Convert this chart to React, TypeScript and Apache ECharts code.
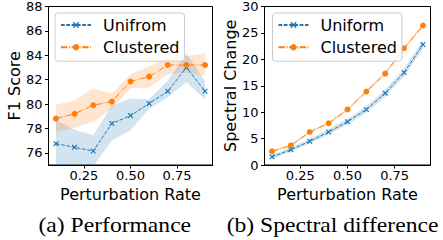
import React, { useEffect, useRef } from "react";
import * as echarts from "echarts";

const rates = [0.1, 0.2, 0.3, 0.4, 0.5, 0.6, 0.7, 0.8, 0.9];
const xTicks = [0.25, 0.5, 0.75];
const f1Ticks = [76, 78, 80, 82, 84, 86, 88];

const f1Uniform = [76.75, 76.45, 76.15, 78.4, 79.05, 80.05, 81.05, 83.0, 81.05];
const f1UniformLow = [74.5, 74.4, 74.9, 77.0, 77.85, 79.6, 80.55, 81.8, 80.4];
const f1UniformHigh = [78.7, 77.9, 77.45, 79.85, 80.45, 80.4, 81.9, 84.15, 81.9];
const f1Clustered = [78.8, 79.2, 79.9, 80.2, 81.85, 82.25, 83.2, 83.2, 83.2];
const f1ClusteredLow = [77.7, 78.05, 78.55, 79.6, 81.3, 81.35, 82.45, 82.6, 82.3];
const f1ClusteredHigh = [79.95, 80.3, 81.3, 80.85, 82.45, 83.1, 83.8, 83.95, 84.15];

const specUniform = [1.55, 2.9, 4.5, 6.25, 8.2, 10.5, 13.6, 17.5, 22.8];
const specUniformLow = [1.15, 2.5, 4.05, 5.75, 7.65, 9.9, 12.9, 16.75, 22.0];
const specUniformHigh = [1.95, 3.3, 4.95, 6.75, 8.75, 11.1, 14.3, 18.25, 23.6];
const specClustered = [2.6, 3.7, 6.25, 7.9, 10.5, 13.9, 17.3, 22.1, 26.4];
const specClusteredLow = [2.4, 3.5, 6.0, 7.65, 10.2, 13.6, 17.0, 21.75, 26.05];
const specClusteredHigh = [2.8, 3.9, 6.5, 8.15, 10.8, 14.2, 17.6, 22.45, 26.75];

const BLUE = "#1f77b4";
const ORANGE = "#ff7f0e";
const FONT = "DejaVu Sans";
const XMARK = "path://M0,1.5L1.5,0L10,8.5L8.5,10Z M8.5,0L10,1.5L1.5,10L0,8.5Z";

const pairs = (ys: number[]) => rates.map((x, i) => [x, ys[i]]);

function band(idx: number, key: string, lo: number[], hi: number[], color: string) {
  return {
    type: "custom", name: key, xAxisIndex: idx, yAxisIndex: idx, silent: true, clip: true, z: 1,
    data: rates.map((x, i) => [x, lo[i], hi[i]]),
    encode: { x: 0, y: [1, 2] },
    renderItem: (params: any, api: any) => {
      if (params.dataIndex !== 0) return null;
      const upper = rates.map((x, i) => api.coord([x, hi[i]]));
      const lower = rates.map((x, i) => api.coord([x, lo[i]])).reverse();
      const cs = params.coordSys;
      return {
        type: "group",
        children: [
          {
            type: "polygon",
            shape: { points: upper.concat(lower) },
            style: { fill: color },
          },
        ],
        clipPath: { type: "rect", shape: { x: cs.x, y: cs.y, width: cs.width, height: cs.height } },
      };
    },
  };
}

function mainLine(idx: number, name: string, ys: number[], color: string, dash: number[], symbol: string, size: number) {
  return {
    type: "line", name, xAxisIndex: idx, yAxisIndex: idx, data: pairs(ys),
    symbol, symbolSize: size, showSymbol: true,
    itemStyle: { color },
    lineStyle: { color, width: 1, type: dash },
    z: 3,
  };
}

function xAxis(idx: number) {
  return {
    type: "value", gridIndex: idx, min: 0.06, max: 0.94,
    name: "Perturbation Rate", nameLocation: "middle", nameGap: 16,
    nameTextStyle: { fontFamily: FONT, fontSize: 16, color: "#000" },
    splitLine: { show: false },
    axisLine: { show: true, lineStyle: { color: "#000", width: 1 } },
    axisTick: { show: true, length: 3.5, customValues: xTicks, lineStyle: { color: "#000" } },
    axisLabel: {
      customValues: xTicks, margin: 4, fontFamily: FONT, fontSize: 13, color: "#000",
      formatter: (v: number) => v.toFixed(2),
    },
  };
}

function legend(left: number, names: string[]) {
  return {
    orient: "vertical", left, top: 13, data: names,
    itemWidth: 30, itemHeight: 8, itemGap: 6.2,
    padding: [4, 5, 6, 5],
    borderColor: "#cccccc", borderWidth: 1, borderRadius: 3,
    backgroundColor: "rgba(255,255,255,0.8)",
    textStyle: { fontFamily: FONT, fontSize: 16, color: "#000", lineHeight: 15.5, padding: [0, 0, 0, 7] },
    selectedMode: false,
  };
}

export default function App() {
  const ref = useRef<HTMLDivElement>(null);
  useEffect(() => {
    if (!ref.current) return;
    const chart = echarts.init(ref.current, null, { renderer: "svg" });
    const dashed = [3.7, 1.6];
    const dashDot = [6.4, 1.6, 1, 1.6];
    chart.setOption({
      animation: false,
      backgroundColor: "#fff",
      grid: [
        { left: 48.5, top: 5, width: 164, height: 160, show: true, borderColor: "#000", borderWidth: 1 },
        { left: 264.5, top: 5, width: 166, height: 160, show: true, borderColor: "#000", borderWidth: 1 },
      ],
      xAxis: [xAxis(0), xAxis(1)],
      yAxis: [
        {
          type: "value", gridIndex: 0, min: 75, max: 88,
          name: "F1 Score", nameLocation: "middle", nameGap: 26,
          nameTextStyle: { fontFamily: FONT, fontSize: 16, color: "#000" },
          splitLine: { show: false },
          axisLine: { show: true, lineStyle: { color: "#000", width: 1 } },
          axisTick: { show: true, length: 3.5, customValues: f1Ticks, lineStyle: { color: "#000" } },
          axisLabel: { customValues: f1Ticks, margin: 6, fontFamily: FONT, fontSize: 13, color: "#000" },
        },
        {
          type: "value", gridIndex: 1, min: 0, max: 30, interval: 5,
          name: "Spectral Change", nameLocation: "middle", nameGap: 20,
          nameTextStyle: { fontFamily: FONT, fontSize: 16, color: "#000" },
          splitLine: { show: false },
          axisLine: { show: true, lineStyle: { color: "#000", width: 1 } },
          axisTick: { show: true, length: 3.5, lineStyle: { color: "#000" } },
          axisLabel: { margin: 6, fontFamily: FONT, fontSize: 13, color: "#000" },
        },
      ],
      legend: [legend(55, ["Unifrom", "Clustered"]), legend(272.5, ["Uniform", "Clustered"])],
      series: [
        band(0, "f1u", f1UniformLow, f1UniformHigh, "rgba(31,119,180,0.2)"),
        band(0, "f1c", f1ClusteredLow, f1ClusteredHigh, "rgba(255,127,14,0.2)"),
        mainLine(0, "Unifrom", f1Uniform, BLUE, dashed, XMARK, 5.5),
        mainLine(0, "Clustered", f1Clustered, ORANGE, dashDot, "circle", 6),
        band(1, "spu", specUniformLow, specUniformHigh, "rgba(31,119,180,0.2)"),
        band(1, "spc", specClusteredLow, specClusteredHigh, "rgba(255,127,14,0.2)"),
        mainLine(1, "Uniform", specUniform, BLUE, dashed, XMARK, 5.5),
        mainLine(1, "Clustered", specClustered, ORANGE, dashDot, "circle", 6),
      ],
      graphic: [
        {
          type: "text", x: 114.8, y: 226, scaleX: 1.18,
          style: { text: "(a) Performance", fontFamily: "Liberation Serif, Times New Roman, serif", fontSize: 20, fill: "#000", align: "center", verticalAlign: "middle" },
        },
        {
          type: "text", x: 332.5, y: 226, scaleX: 1.18,
          style: { text: "(b) Spectral difference", fontFamily: "Liberation Serif, Times New Roman, serif", fontSize: 20, fill: "#000", align: "center", verticalAlign: "middle" },
        },
      ],
    });
    return () => chart.dispose();
  }, []);
  return <div ref={ref} style={{ position: "fixed", left: 0, top: 0, width: 443, height: 240 }} />;
}
